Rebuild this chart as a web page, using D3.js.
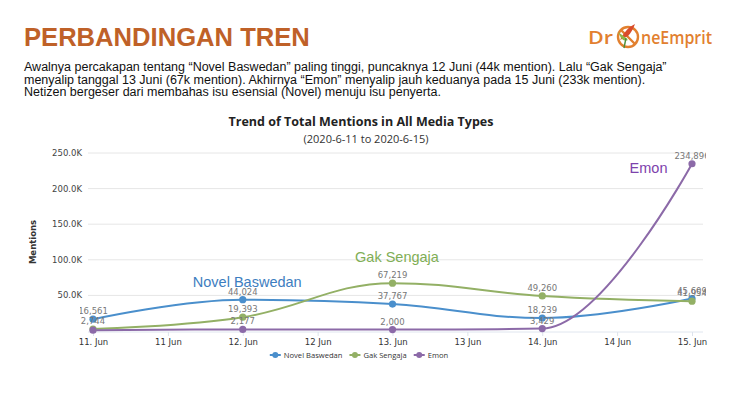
<!DOCTYPE html>
<html>
<head>
<meta charset="utf-8">
<script src="https://cdn.jsdelivr.net/npm/d3@7"></script>
<style>
  html, body { margin: 0; padding: 0; background: #fff; }
  svg { display: block; }
</style>
</head>
<body>
<div id="chart"></div>
<script>
// data
const days = ['2020-06-11', '2020-06-12', '2020-06-13', '2020-06-14', '2020-06-15'];
const novelBaswedan = [16561, 44024, 37767, 18239, 45609];
const gakSengaja = [2744, 19393, 67219, 49260, 41954];
const emon = [1200, 2177, 2000, 3429, 234896];
const emonLabelShown = [false, true, true, true, true];
const xTickLabels = ['11. Jun', '11 Jun', '12. Jun', '12 Jun', '13. Jun', '13 Jun', '14. Jun', '14 Jun', '15. Jun'];
const yTicks = [50000, 100000, 150000, 200000, 250000];

const series = [
    { name: 'Novel Baswedan', values: novelBaswedan, color: '#4a8fcc', text: '#3d7dc0', labels: [true, true, true, true, true] },
    { name: 'Gak Sengaja', values: gakSengaja, color: '#93b065', text: '#7fae55', labels: [true, true, true, true, true] },
    { name: 'Emon', values: emon, color: '#8c6aa8', text: '#7d42ac', labels: emonLabelShown }
];

const W = 732, H = 419;
const svg = d3.select('#chart').append('svg').attr('width', W).attr('height', H);

// header
svg.append('text')
    .attr('x', 24).attr('y', 46)
    .style('font-family', '"Liberation Sans", Arial, sans-serif')
    .style('font-weight', 'bold').style('font-size', '25.6px')
    .style('fill', '#bf6128')
    .text('PERBANDINGAN TREN');

const para = [
    'Awalnya percakapan tentang \u201cNovel Baswedan\u201d paling tinggi, puncaknya 12 Juni (44k mention). Lalu \u201cGak Sengaja\u201d',
    'menyalip tanggal 13 Juni (67k mention). Akhirnya \u201cEmon\u201d menyalip jauh keduanya pada 15 Juni (233k mention).',
    'Netizen bergeser dari membahas isu esensial (Novel) menuju isu penyerta.'
];
svg.append('g').selectAll('text').data(para).join('text')
    .attr('x', 24).attr('y', (d, i) => 71 + i * 12.5)
    .style('font-family', '"Liberation Sans", Arial, sans-serif')
    .style('font-size', '12.5px').style('fill', '#111')
    .text(d => d);

// logo
const logo = svg.append('g').attr('transform', 'translate(588,44)');
logo.append('text').attr('x', 0).attr('y', 0)
    .attr('textLength', 25).attr('lengthAdjust', 'spacingAndGlyphs')
    .style('font-family', '"Open Sans", sans-serif').style('font-size', '18px').style('font-weight', 600)
    .style('fill', '#e2802f').text('Dr');
logo.append('circle').attr('cx', 40).attr('cy', -7).attr('r', 10)
    .attr('fill', 'none').attr('stroke', '#e2802f').attr('stroke-width', 2.4);
logo.append('path').attr('d', 'M33,-14 L47,0').attr('stroke', '#e2802f').attr('stroke-width', 2.4);
logo.append('path').attr('d', 'M32,-4 Q38,-16 47,-20 Q44,-12 40,-8 Z').attr('fill', '#d94b2b');
logo.append('path').attr('d', 'M30,-12 Q36,-8 40,-4 Q36,-2 33,-6 Z').attr('fill', '#8fb545');
logo.append('path').attr('d', 'M38,-6 L36,4').attr('stroke', '#4b8f3a').attr('stroke-width', 1.4);
logo.append('text').attr('x', 53).attr('y', 0)
    .attr('textLength', 71).attr('lengthAdjust', 'spacingAndGlyphs')
    .style('font-family', '"Open Sans", sans-serif').style('font-size', '18px').style('font-weight', 600)
    .style('fill', '#e2802f').text('neEmprit');

// chart titles
const chartFont = '"DejaVu Sans", Verdana, sans-serif';
svg.append('text').attr('x', 361).attr('y', 126).attr('text-anchor', 'middle')
    .style('font-family', '"Open Sans", sans-serif').style('font-weight', 'bold')
    .style('font-size', '12.5px').style('fill', '#222')
    .text('Trend of Total Mentions in All Media Types');
svg.append('text').attr('x', 366).attr('y', 143).attr('text-anchor', 'middle')
    .style('font-family', '"Open Sans", sans-serif').style('font-size', '11px').style('fill', '#333')
    .text('(2020-6-11 to 2020-6-15)');

// scales
const parse = d3.timeParse('%Y-%m-%d');
const dates = days.map(parse);
const x = d3.scaleTime().domain([dates[0], dates[dates.length - 1]]).range([93, 692]);
const y = d3.scaleLinear().domain([0, 250000]).range([331, 153]);

// grid
svg.append('g').selectAll('line').data(yTicks).join('line')
    .attr('x1', 88).attr('x2', 703)
    .attr('y1', d => y(d)).attr('y2', d => y(d))
    .attr('stroke', '#e6e6e6').attr('stroke-width', 1);

// y axis labels
svg.append('g').selectAll('text').data(yTicks).join('text')
    .attr('x', 82).attr('y', d => y(d) + 3).attr('text-anchor', 'end')
    .style('font-family', chartFont).style('font-size', '8.5px').style('fill', '#444')
    .text(d => d3.format('.1f')(d / 1000) + 'K');

svg.append('text')
    .attr('transform', `translate(36,${y(125000)}) rotate(-90)`)
    .attr('text-anchor', 'middle')
    .style('font-family', chartFont).style('font-weight', 'bold')
    .style('font-size', '8.5px').style('fill', '#333')
    .text('Mentions');

// x axis
const halfDays = d3.timeHour.every(12).range(dates[0], d3.timeHour.offset(dates[dates.length - 1], 1));
const xAxis = d3.axisBottom(x)
    .tickValues(halfDays)
    .tickSize(4)
    .tickFormat((d, i) => xTickLabels[i]);
const gx = svg.append('g').attr('transform', `translate(0,${y(0) + 1})`).call(xAxis);
gx.select('.domain').attr('stroke', '#e0e6ef').attr('d', 'M88,0H703');
gx.selectAll('.tick line').attr('stroke', '#dde3ec');
gx.selectAll('.tick text')
    .style('font-family', chartFont).style('font-size', '8.5px').style('fill', '#333');

// Highcharts-like spline path
function splinePath(pts) {
    const smoothing = 1.5, denom = smoothing + 1;
    let d = `M${pts[0][0]},${pts[0][1]}`;
    let prevRight = null;
    for (let i = 1; i < pts.length; i++) {
        const [px, py] = pts[i];
        const last = pts[i - 1], next = pts[i + 1];
        let lcx = px, lcy = py, rcx = null, rcy = null;
        if (next) {
            lcx = (smoothing * px + last[0]) / denom;
            lcy = (smoothing * py + last[1]) / denom;
            rcx = (smoothing * px + next[0]) / denom;
            rcy = (smoothing * py + next[1]) / denom;
            let corr = 0;
            if (rcx !== lcx) corr = ((rcy - lcy) * (rcx - px)) / (rcx - lcx) + py - rcy;
            lcy += corr; rcy += corr;
            if (lcy > last[1] && lcy > py) { lcy = Math.max(last[1], py); rcy = 2 * py - lcy; }
            else if (lcy < last[1] && lcy < py) { lcy = Math.min(last[1], py); rcy = 2 * py - lcy; }
            if (rcy > next[1] && rcy > py) { rcy = Math.max(next[1], py); lcy = 2 * py - rcy; }
            else if (rcy < next[1] && rcy < py) { rcy = Math.min(next[1], py); lcy = 2 * py - rcy; }
        }
        const c1 = prevRight || last;
        d += `C${c1[0]},${c1[1]} ${lcx},${lcy} ${px},${py}`;
        prevRight = rcx !== null ? [rcx, rcy] : null;
    }
    return d;
}

svg.append('defs').append('clipPath').attr('id', 'plot')
    .append('rect').attr('x', 80).attr('y', 140).attr('width', 626).attr('height', 200);

const plot = svg.append('g').attr('clip-path', 'url(#plot)');

series.forEach(s => {
    const pts = s.values.map((v, i) => [x(dates[i]), y(v)]);
    plot.append('path').attr('d', splinePath(pts))
        .attr('fill', 'none').attr('stroke', s.color).attr('stroke-width', 2);
});
series.forEach(s => {
    plot.append('g').selectAll('circle').data(s.values).join('circle')
        .attr('cx', (d, i) => x(dates[i])).attr('cy', d => y(d)).attr('r', 3.6)
        .attr('fill', s.color);
});
series.forEach(s => {
    plot.append('g').selectAll('text').data(s.values.map((v, i) => ({ v, i })).filter(d => s.labels[d.i])).join('text')
        .attr('x', d => x(dates[d.i])).attr('y', d => y(d.v) - 5)
        .attr('text-anchor', 'middle')
        .style('font-family', chartFont).style('font-size', '8.5px')
        .style('fill', '#777')
        .text(d => d3.format(',')(d.v));
});

// series annotations
const notes = [
    { s: series[0], day: 0.667, v: 62000 },
    { s: series[1], day: 1.78, v: 97000 },
    { s: series[2], day: 3.607, v: 221500 }
];
notes.forEach(n => {
    svg.append('text')
        .attr('x', x(d3.timeHour.offset(dates[0], n.day * 24))).attr('y', y(n.v))
        .style('font-family', '"Liberation Sans", Arial, sans-serif').style('font-size', '14.5px')
        .style('fill', n.s.text).text(n.s.name);
});

// legend
const legend = svg.append('g').attr('transform', 'translate(0,355)');
let lx = 0;
series.forEach(s => {
    const g = legend.append('g');
    g.append('line').attr('x1', 0).attr('x2', 11).attr('y1', 0).attr('y2', 0)
        .attr('stroke', s.color).attr('stroke-width', 2);
    g.append('circle').attr('cx', 5.5).attr('cy', 0).attr('r', 3).attr('fill', s.color);
    const t = g.append('text').attr('x', 14).attr('y', 3)
        .style('font-family', '"Open Sans", sans-serif').style('font-size', '7.6px').style('fill', '#333')
        .text(s.name);
    g.attr('transform', `translate(${lx},0)`);
    lx += 14 + t.node().getComputedTextLength() + 7;
});
legend.attr('transform', `translate(${359 - (lx - 7) / 2},355)`);
</script>
</body>
</html>
